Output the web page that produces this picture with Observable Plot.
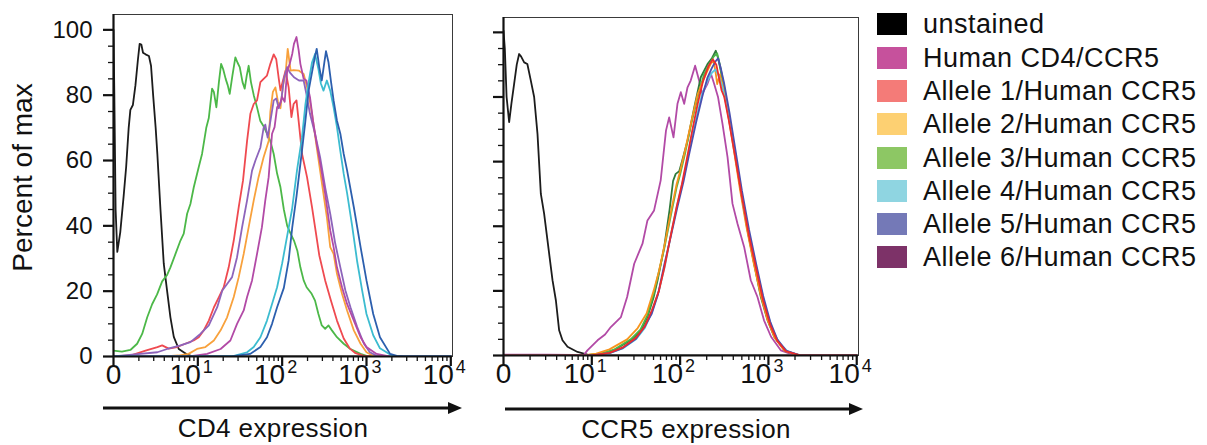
<!DOCTYPE html>
<html><head><meta charset="utf-8">
<script src="https://cdn.jsdelivr.net/npm/d3@7"></script>
<script src="https://cdn.jsdelivr.net/npm/@observablehq/plot@0.6"></script>
<style>
body{margin:0;background:#fff;font-family:"Liberation Sans",Arial,sans-serif;}
#wrap{position:relative;width:1207px;height:445px;overflow:hidden;background:#fff;}
#left,#right{position:absolute;top:0;}
#left{left:0px}#right{left:470px}
#legend{position:absolute;left:877px;top:0;}
.lrow{position:absolute;left:0;height:22px;white-space:nowrap;}
.sw{position:absolute;left:0;top:0;width:30px;height:22px;}
.lt{position:absolute;left:46px;top:0;line-height:22px;font-size:27px;letter-spacing:0.5px;color:#111;}
</style></head>
<body><div id="wrap"><div id="left"></div><div id="right"></div><div id="legend"></div></div>
<script>
// ---- axis definitions (x in decades: 0 = "0", 1 = 10^1 ...) ----
const xMajor = [0, 1, 2, 3, 4];
const xTickBase = ["0", "10", "10", "10", "10"];
const xTickExp = ["", "1", "2", "3", "4"];
const yMajor = [0, 20, 40, 60, 80, 100];
const yLabelText = "Percent of max";
const leftTitle = "CD4 expression";
const rightTitle = "CCR5 expression";

// ---- legend ----
const legendNames = ["unstained", "Human CD4/CCR5", "Allele 1/Human CCR5", "Allele 2/Human CCR5",
  "Allele 3/Human CCR5", "Allele 4/Human CCR5", "Allele 5/Human CCR5", "Allele 6/Human CCR5"];
const legendColors = ["#000000", "#c6519c", "#f47b78", "#fdd072", "#8dc764", "#8fd5e1", "#7479b7", "#7d3268"];

// ---- CD4 panel curves [decade, percent of max] ----
const cd4Unstained = [[0,100],[0.01,80],[0.025,45],[0.045,32],[0.08,38],[0.12,49],[0.15,58],[0.18,70],[0.2,75.5],[0.23,77],[0.26,83],[0.29,91],[0.31,95.7],[0.33,95.5],[0.35,93],[0.38,92.5],[0.42,92],[0.445,89],[0.47,80],[0.5,70],[0.52,62],[0.557,45],[0.596,28.4],[0.636,20],[0.675,12],[0.715,6],[0.774,2.3],[0.873,0.6],[0.95,0],[4,0]];
const cd4Allele3 = [[0,1.8],[0.1,1.5],[0.2,2],[0.28,3.9],[0.34,6.9],[0.4,12],[0.458,16],[0.517,19],[0.577,23],[0.636,25],[0.675,27.3],[0.735,31.4],[0.794,35.5],[0.833,37.6],[0.873,43.7],[0.912,46.7],[0.952,51.8],[1.011,58],[1.05,62],[1.1,70],[1.13,73],[1.169,82],[1.19,81],[1.22,76.3],[1.25,84],[1.276,89.6],[1.3,88],[1.33,85],[1.355,83],[1.378,80.4],[1.41,86],[1.445,91.6],[1.47,90],[1.497,88.6],[1.53,84],[1.556,82],[1.58,86],[1.603,89],[1.63,84],[1.663,80],[1.7,76.5],[1.74,72.2],[1.78,70.5],[1.82,68.2],[1.86,66],[1.9,62],[1.94,56],[1.98,51.8],[2.02,45],[2.06,40],[2.1,37.6],[2.14,35.5],[2.18,32.4],[2.216,27.3],[2.255,23.3],[2.29,21.2],[2.35,19.2],[2.39,17.1],[2.43,13],[2.47,9.5],[2.51,8.5],[2.55,9.5],[2.59,8],[2.65,5.9],[2.73,3.9],[2.81,2.3],[2.93,0.8],[3.0,0.2],[3.1,0],[4,0]];
const cd4Allele1 = [[0,0],[0.2,0.3],[0.38,1.8],[0.52,2.9],[0.577,3.4],[0.655,2.4],[0.755,2.9],[0.85,3.9],[0.95,4.9],[1.011,5.9],[1.07,8],[1.13,11],[1.19,15],[1.25,18.2],[1.307,21.2],[1.366,27.3],[1.426,35.5],[1.485,45.7],[1.536,53.9],[1.584,66],[1.623,74.3],[1.663,77.3],[1.702,78.4],[1.742,84],[1.78,85],[1.82,86],[1.86,89.6],[1.9,92.5],[1.93,91],[1.96,85],[1.98,81.5],[2.01,84.5],[2.04,87.5],[2.077,82.4],[2.11,73.3],[2.136,77.3],[2.17,78.4],[2.195,72.2],[2.236,62],[2.295,54.9],[2.354,45.7],[2.39,39.6],[2.44,31],[2.51,23.3],[2.58,17],[2.65,11],[2.73,5.5],[2.8,2.5],[2.87,1],[2.97,0.2],[3.05,0],[4,0]];
const cd4Allele2 = [[0,0],[0.6,0],[0.77,0.3],[0.89,0.8],[0.99,2.3],[1.09,2.9],[1.19,4.9],[1.27,8],[1.347,12],[1.426,18.2],[1.485,24.3],[1.544,31.4],[1.603,39.6],[1.663,47.8],[1.72,54.9],[1.78,61],[1.84,66],[1.86,75],[1.89,81],[1.92,82.4],[1.95,78],[1.98,76],[2.01,83],[2.04,86.5],[2.066,94.2],[2.1,87.5],[2.136,87.7],[2.2,87.5],[2.255,86.5],[2.295,82.4],[2.33,78],[2.354,74.3],[2.41,64],[2.45,56.9],[2.49,49.8],[2.53,42.7],[2.57,33.5],[2.61,31.4],[2.65,25.3],[2.71,19.2],[2.77,14.1],[2.85,8],[2.93,3.9],[3.0,1.3],[3.08,0.2],[3.15,0],[4,0]];
const cd4Allele5 = [[0,0],[0.19,0.5],[0.52,1.3],[0.636,2.3],[0.794,3.4],[0.912,4.4],[1.03,6.9],[1.13,9.5],[1.23,15.1],[1.29,20.2],[1.347,22.2],[1.406,24.3],[1.465,30.4],[1.525,39.6],[1.584,47.8],[1.643,56.9],[1.683,60],[1.742,64],[1.78,70],[1.8,71],[1.828,67],[1.86,72],[1.9,78.4],[1.93,79],[1.96,76],[1.99,78.5],[2.02,85],[2.06,88.6],[2.09,87],[2.14,85.5],[2.2,84.5],[2.255,84.5],[2.29,80],[2.33,74.3],[2.39,68.2],[2.45,61],[2.51,51.8],[2.57,43.7],[2.63,34.5],[2.69,27.3],[2.75,20.2],[2.81,15.1],[2.89,9],[2.97,3.9],[3.04,1.3],[3.12,0.2],[3.2,0],[4,0]];
const cd4Human = [[0,0],[0.9,0],[1.11,0.8],[1.27,2.3],[1.386,4.9],[1.465,10],[1.544,14.1],[1.584,18.2],[1.643,23.3],[1.702,31.4],[1.76,39.6],[1.8,47.8],[1.84,54.9],[1.88,68.2],[1.91,70.2],[1.94,76.3],[1.97,77],[2.0,79.4],[2.03,78],[2.06,87.5],[2.09,89.6],[2.12,92.7],[2.14,95.7],[2.17,97.8],[2.196,93.7],[2.216,89.6],[2.255,85],[2.287,84.5],[2.33,79.4],[2.366,72.2],[2.41,65],[2.46,58],[2.51,49.8],[2.57,38.6],[2.61,33.5],[2.65,27.3],[2.71,21.2],[2.77,16.1],[2.85,11],[2.93,5.9],[3.0,2.9],[3.12,0.8],[3.24,0.2],[3.3,0],[4,0]];
const cd4Allele4 = [[0,0],[1.3,0],[1.43,0.2],[1.584,1.3],[1.663,2.9],[1.742,5.9],[1.82,11],[1.88,16.1],[1.94,21.2],[2.0,28.5],[2.06,37],[2.117,45],[2.176,57],[2.235,67],[2.275,77],[2.314,84],[2.354,90],[2.39,92.6],[2.43,88],[2.46,83.5],[2.49,81.4],[2.53,84.5],[2.57,81.4],[2.61,76.3],[2.65,70.2],[2.69,62.9],[2.73,55.9],[2.77,50],[2.83,40],[2.89,29],[2.95,20],[3.0,13],[3.08,6.5],[3.16,2.5],[3.28,0.6],[3.36,0],[4,0]];
const cd4Allele6 = [[0,0],[1.4,0],[1.62,0.8],[1.742,2.9],[1.82,5.9],[1.88,10],[1.94,15.1],[2.02,21],[2.077,29.4],[2.12,39.6],[2.17,49],[2.235,63],[2.275,72],[2.314,81.4],[2.354,87],[2.39,92],[2.41,94.2],[2.44,88.6],[2.47,84.5],[2.5,90],[2.52,93.5],[2.55,90],[2.58,84],[2.61,78.4],[2.65,72.2],[2.69,68.2],[2.73,62],[2.77,57],[2.85,45.7],[2.93,33.5],[3.0,23.3],[3.08,13],[3.16,5.9],[3.28,0.8],[3.36,0.2],[3.45,0],[4,0]];

// ---- CCR5 panel curves ----
const ccr5Unstained = [[0,100.5],[0.015,95],[0.035,80],[0.064,72.2],[0.09,78],[0.12,84],[0.15,90],[0.177,93.3],[0.2,92.5],[0.234,90.7],[0.27,90.2],[0.31,85],[0.347,80],[0.385,68.6],[0.423,50],[0.46,43.9],[0.517,31.5],[0.555,23.3],[0.593,17.1],[0.63,7.8],[0.668,4.7],[0.725,2.7],[0.838,1.1],[0.951,0.3],[1.0,0],[4,0]];
const ccr5Human = [[0,0.3],[0.5,0.3],[0.8,0.2],[0.913,0.3],[0.95,1.6],[1.065,4.7],[1.15,6.5],[1.215,8.8],[1.33,11.9],[1.4,18.1],[1.48,28.4],[1.574,34.6],[1.63,41.8],[1.705,44.9],[1.78,54.2],[1.84,69.6],[1.876,73.7],[1.925,67.5],[1.97,77.9],[2.008,81.5],[2.046,77.9],[2.084,83],[2.12,85.1],[2.17,89.7],[2.215,85.1],[2.25,81],[2.31,84.1],[2.35,87.1],[2.385,84.1],[2.43,79.9],[2.48,71.7],[2.537,61.4],[2.593,47],[2.65,40.8],[2.725,33.6],[2.8,23.3],[2.876,18.1],[2.95,10.9],[3.03,5.8],[3.14,1.6],[3.29,0.1],[3.4,0],[4,0]];
const ccr5DarkGreen = [[0,0],[0.9,0],[1.1,0.5],[1.25,1.6],[1.44,4.7],[1.55,7.5],[1.63,11.9],[1.7,18],[1.745,23.3],[1.82,33.6],[1.88,45],[1.92,54],[1.95,56.2],[1.99,57],[2.02,60],[2.084,66.5],[2.16,76.8],[2.234,86.1],[2.31,90.2],[2.36,92],[2.404,94.3],[2.43,92],[2.46,88.2],[2.537,76.8],[2.61,64.5],[2.687,51.1],[2.763,38.7],[2.838,28.4],[2.914,18.1],[2.99,10.9],[3.065,5.8],[3.18,1.6],[3.33,0.1],[3.4,0],[4,0]];
const ccr5Green = [[0,0],[0.9,0],[1.1,0.5],[1.25,1.8],[1.44,5],[1.55,8],[1.63,12.5],[1.7,19],[1.76,26],[1.82,33],[1.9,44],[1.96,52],[2.0,56],[2.06,63],[2.12,71],[2.2,80],[2.27,87],[2.33,90],[2.38,92.5],[2.42,93.5],[2.45,90],[2.5,83],[2.56,73],[2.63,61.5],[2.7,49.5],[2.77,38],[2.84,28.5],[2.92,18.5],[3.0,10.5],[3.08,5.2],[3.2,1.3],[3.35,0.1],[3.42,0],[4,0]];
const ccr5Orange = [[0,0],[0.9,0],[1.05,0.6],[1.2,1.9],[1.4,5],[1.52,8.5],[1.62,13],[1.7,20],[1.76,26],[1.83,35],[1.9,45],[1.96,53],[2.0,57],[2.06,64],[2.14,74],[2.2,81],[2.26,85],[2.3,87.5],[2.35,90.5],[2.38,91],[2.4,88],[2.42,84],[2.45,87],[2.48,84],[2.53,77],[2.6,65],[2.68,51],[2.75,40],[2.83,29],[2.91,19],[2.99,11],[3.07,5.5],[3.18,1.6],[3.32,0.1],[3.4,0],[4,0]];
const ccr5Cyan = [[0,0],[1.0,0],[1.2,0.7],[1.35,2.2],[1.5,5],[1.6,8.5],[1.68,13.5],[1.76,20],[1.83,28],[1.9,38],[1.97,47],[2.04,55],[2.1,63],[2.18,73],[2.25,81],[2.31,85],[2.36,87.5],[2.4,88.5],[2.43,87],[2.47,84],[2.52,78],[2.58,69],[2.65,58],[2.72,46],[2.8,35],[2.88,25],[2.96,15.5],[3.04,8.5],[3.12,4],[3.22,1.2],[3.35,0.1],[3.42,0],[4,0]];
const ccr5Blue = [[0,0],[1.0,0],[1.2,0.7],[1.35,2.3],[1.5,5.2],[1.6,9],[1.68,13],[1.75,19],[1.82,28],[1.9,37.5],[1.97,46],[2.04,54],[2.1,62],[2.18,72],[2.25,80],[2.31,86],[2.36,89],[2.4,91],[2.43,92],[2.46,89],[2.5,84],[2.56,75],[2.63,63],[2.7,51],[2.78,39],[2.86,28.5],[2.94,18.5],[3.02,10.5],[3.1,5],[3.2,1.5],[3.35,0.1],[3.42,0],[4,0]];
const ccr5Red = [[0,0],[1.0,0],[1.2,0.8],[1.35,2.5],[1.5,5.5],[1.6,9],[1.68,14],[1.76,20],[1.82,27],[1.9,38],[1.96,46],[2.02,53],[2.07,60],[2.14,70],[2.2,78],[2.26,85],[2.32,89.5],[2.37,91.7],[2.41,90],[2.44,86],[2.47,82],[2.5,80],[2.55,73],[2.62,62],[2.7,49],[2.78,37],[2.86,27],[2.94,17],[3.02,9.5],[3.1,4.5],[3.2,1.3],[3.35,0.1],[3.42,0],[4,0]];

const cd4Series = [
  [cd4Unstained, "#1c1c1c"], [cd4Allele3, "#4cb848"], [cd4Allele1, "#ef4a50"], [cd4Allele2, "#f8a13c"],
  [cd4Allele5, "#8d64bb"], [cd4Human, "#b24aa6"], [cd4Allele4, "#3cbcd0"], [cd4Allele6, "#2c5fae"]
];
const ccr5Series = [
  [ccr5Unstained, "#1c1c1c"], [ccr5Human, "#b24aa6"], [ccr5DarkGreen, "#2f7a3b"], [ccr5Green, "#4cb848"],
  [ccr5Orange, "#f7941d"], [ccr5Cyan, "#5cc8df"], [ccr5Blue, "#4a4fb0"], [ccr5Red, "#ee2b2b"]
];

// axis geometry helpers
const xMinor = [];
for (const dec of [0, 1, 2, 3]) for (let k = 2; k <= 9; k++) xMinor.push(dec + Math.log10(k));
const yMinor = d3.range(0, 101, 5).filter(v => v % 20 !== 0);
const tickObjs = xMajor.map((d, i) => ({d, base: xTickBase[i], exp: xTickExp[i]}));
const zeroTick = tickObjs.filter(t => t.exp === "");
const powTicks = tickObjs.filter(t => t.exp !== "");

function panel({series, width, marginLeft, marginRight, marginTop, marginBottom, yMax, yLabels, title, titleX, arrowX1, arrowX2, arrowY}) {
  const height = 445;
  const marks = [
    Plot.frame({stroke: "#3a3a3a", strokeWidth: 1}),
    ...series.map(([data, color]) => Plot.line(data, {x: d => d[0], y: d => d[1], stroke: color, strokeWidth: 1.8, strokeLinejoin: "round", clip: true})),
    Plot.axisY({ticks: yMinor, tickSize: 5, fill: "none", label: null, strokeWidth: 1.3}),
    yLabels
      ? Plot.axisY({ticks: yMajor, tickSize: 10, tickPadding: 11, tickFormat: d => String(d), label: null, strokeWidth: 2.2, fontSize: 24})
      : Plot.axisY({ticks: yMajor, tickSize: 10, fill: "none", label: null, strokeWidth: 2.2}),
    Plot.axisX({ticks: xMinor, tickSize: 5, fill: "none", label: null, strokeWidth: 1.3}),
    Plot.axisX({ticks: xMajor, tickSize: 10, fill: "none", label: null, strokeWidth: 2.2}),
    Plot.ruleX([0], {strokeWidth: 2.2}),
    Plot.ruleY([0], {strokeWidth: 2.2}),
    Plot.text(zeroTick, {x: "d", text: "base", frameAnchor: "bottom", dy: 27, fontSize: 28}),
    Plot.text(powTicks, {x: "d", text: "base", frameAnchor: "bottom", dy: 27, dx: 3, textAnchor: "end", fontSize: 28}),
    Plot.text(powTicks, {x: "d", text: "exp", frameAnchor: "bottom", dy: 16, dx: 5, textAnchor: "start", fontSize: 18})
  ];
  if (yLabels) marks.push(Plot.text([yLabelText], {text: d => d, frameAnchor: "left", textAnchor: "middle", rotate: -90, dx: -90, dy: -8, fontSize: 28}));
  const svg = Plot.plot({
    width, height, marginLeft, marginRight, marginTop, marginBottom,
    x: {domain: [0, 4.02]},
    y: {domain: [0, yMax]},
    style: {fontFamily: "'Liberation Sans', Arial, sans-serif", fontSize: "24px", color: "#111", background: "white", overflow: "visible"},
    marks
  });
  const s = d3.select(svg);
  const g = s.append("g");
  g.append("line").attr("x1", arrowX1).attr("x2", arrowX2 - 10).attr("y1", arrowY).attr("y2", arrowY)
    .attr("stroke", "#111").attr("stroke-width", 3);
  g.append("path").attr("d", `M${arrowX2},${arrowY} L${arrowX2 - 14},${arrowY - 6} L${arrowX2 - 14},${arrowY + 6} Z`).attr("fill", "#111");
  g.append("text").attr("x", titleX).attr("y", arrowY + 29).attr("text-anchor", "middle")
    .attr("font-size", 26).attr("letter-spacing", "0.4px").attr("fill", "#111").text(title);
  return svg;
}

document.getElementById("left").appendChild(panel({
  series: cd4Series, width: 470, marginLeft: 113, marginRight: 18, marginTop: 14, marginBottom: 89, yMax: 104.7, yLabels: true,
  title: leftTitle, titleX: 273, arrowX1: 103, arrowX2: 462, arrowY: 408
}));
document.getElementById("right").appendChild(panel({
  series: ccr5Series, width: 400, marginLeft: 33, marginRight: 12, marginTop: 17, marginBottom: 90, yMax: 104.6, yLabels: false,
  title: rightTitle, titleX: 216, arrowX1: 35, arrowX2: 393, arrowY: 409
}));

const leg = document.getElementById("legend");
legendNames.forEach((name, i) => {
  const row = document.createElement("div");
  row.className = "lrow";
  row.style.top = (13.3 + i * 33.3) + "px";
  const sw = document.createElement("div");
  sw.className = "sw"; sw.style.background = legendColors[i];
  const t = document.createElement("div");
  t.className = "lt"; t.textContent = name;
  row.appendChild(sw); row.appendChild(t);
  leg.appendChild(row);
});
</script></body></html>
